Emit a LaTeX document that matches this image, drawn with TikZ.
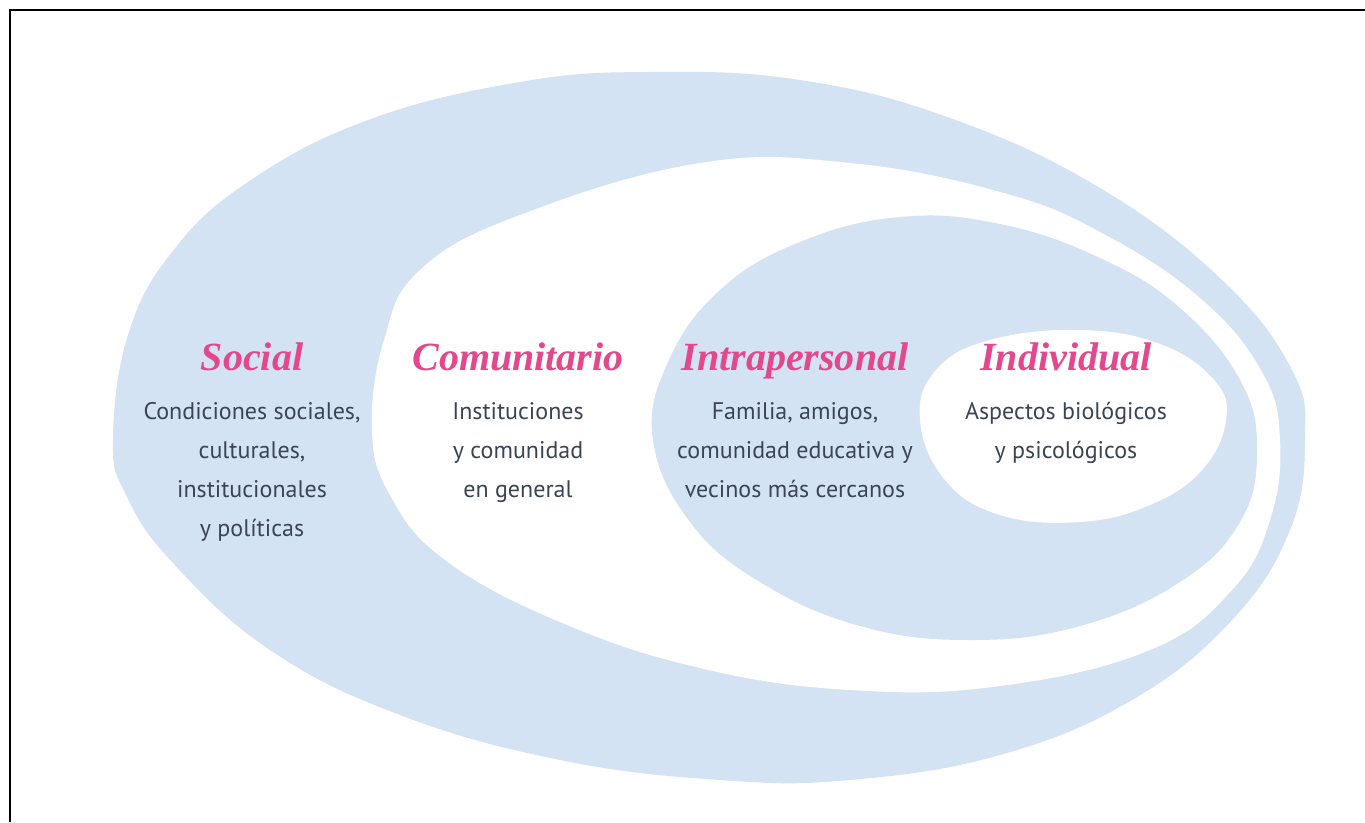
\documentclass[tikz,border=0pt]{standalone}
\usepackage{fontspec}
\setmainfont{PT Sans}
\newfontfamily\titlefont{Liberation Serif}
\definecolor{ringblue}{RGB}{211,227,243}
\definecolor{titlepink}{RGB}{228,72,140}
\definecolor{bodyink}{RGB}{58,68,84}
\newcommand{\firststrut}{\rule{0pt}{22pt}}
\begin{document}
\begin{tikzpicture}[x=1pt,y=-1pt,
  blob/.style={fill=ringblue,draw=none},
  hole/.style={fill=white,draw=none},
  ttl/.style={anchor=base,text=titlepink,font=\titlefont\bfseries\itshape\fontsize{40}{44}\selectfont,inner sep=0pt},
  body/.style={anchor=north,text=bodyink,align=center,font=\fontsize{24}{39}\selectfont,inner sep=0pt}]
\useasboundingbox (0,0) rectangle (1365,822);
\fill[white] (0,0) rectangle (1365,822);
% outer ring (Social)
\path[blob] plot[smooth cycle,tension=0.7] coordinates {
 (113,440) (128,335) (172,252) (248,182) (368,120) (520,82) (650,72) (800,80)
 (950,118) (1100,188) (1222,280) (1292,370) (1305,440) (1290,530) (1232,620)
 (1132,700) (1000,755) (850,780) (720,780) (560,760) (400,715) (270,650) (172,562) (126,495)};
% community (white)
\path[hole] plot[smooth cycle,tension=0.7] coordinates {
 (372,430) (384,340) (420,270) (520,215) (700,163) (850,163) (1000,192) (1100,232)
 (1200,298) (1262,372) (1280,440) (1270,520) (1232,590) (1150,650) (1000,686)
 (850,690) (700,668) (560,622) (445,560) (390,495)};
% intrapersonal (blue)
\path[blob] plot[smooth cycle,tension=0.7] coordinates {
 (653,440) (668,362) (720,290) (800,242) (900,217) (1000,224) (1100,258) (1180,308)
 (1240,380) (1257,450) (1240,522) (1180,582) (1080,626) (970,640) (860,626) (760,582) (690,522)};
% individual (white)
\path[hole] plot[smooth cycle,tension=0.7] coordinates {
 (920,420) (936,370) (990,340) (1080,330) (1160,344) (1214,380) (1226,420)
 (1202,470) (1150,505) (1080,522) (1000,515) (945,480)};
% frame
\draw[line width=2pt,black] (10,822) -- (10,10) -- (1365,10);
% titles
\node[ttl] (tSocial) at (252,370) {Social};
\node[ttl] (tCom) at (518,370) {Comunitario};
\node[ttl] (tIntra) at (795,370) {Intrapersonal};
\node[ttl] (tInd) at (1066,370) {Individual};
% bodies
\node[body] (bSocial) at (252,397) {\firststrut Condiciones sociales,\\culturales,\\institucionales\\y políticas};
\node[body] (bCom) at (518,397) {\firststrut Instituciones\\y comunidad\\en general};
\node[body] (bIntra) at (795,397) {\firststrut Familia, amigos,\\comunidad educativa y\\vecinos más cercanos};
\node[body] (bInd) at (1066,397) {\firststrut Aspectos biológicos\\y psicológicos};
\end{tikzpicture}
\end{document}
